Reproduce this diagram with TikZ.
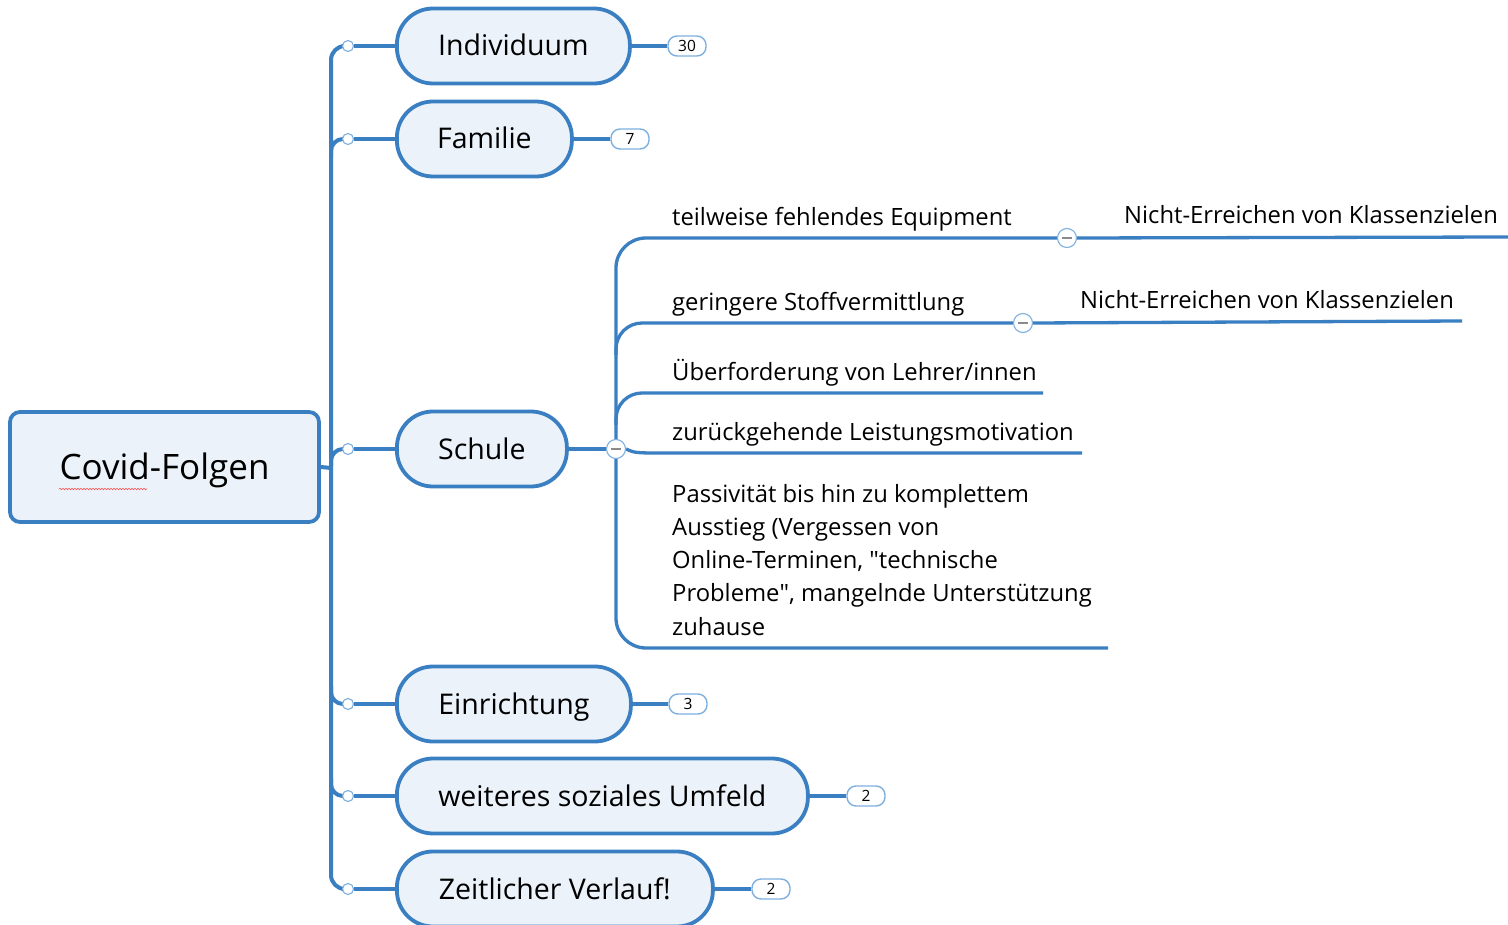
\documentclass[tikz,border=0pt]{standalone}
\usepackage{fontspec}
\setmainfont{Open Sans}
\usetikzlibrary{decorations.pathmorphing,backgrounds}
\definecolor{lineblue}{HTML}{3A7FC1}
\definecolor{fillblue}{HTML}{EBF2FA}
\definecolor{ringblue}{HTML}{7DB0DE}
\definecolor{minusgray}{HTML}{8A8A8A}
\begin{document}
\begin{tikzpicture}[x=1pt,y=-1pt,
  topic/.style={draw=lineblue, line width=3.8pt, fill=fillblue, rounded corners=36pt,
    minimum height=75pt, inner sep=0pt, font=\fontsize{28.5}{32}\selectfont,
    text height=27.5pt, text depth=7.5pt, anchor=west},
  rootbox/.style={draw=lineblue, line width=3.8pt, fill=fillblue, rounded corners=10pt,
    minimum width=309pt, minimum height=110pt, inner sep=0pt, font=\fontsize{35}{40}\selectfont,
    text height=34pt, text depth=9pt},
  branch/.style={draw=lineblue, line width=4pt},
  sub/.style={draw=lineblue, line width=3.3pt},
  dot/.style={circle, draw=ringblue, fill=white, line width=1.1pt, minimum size=11pt, inner sep=0pt},
  minus/.style={circle, draw=ringblue, fill=white, line width=1.1pt, minimum size=19pt, inner sep=0pt,
    path picture={\draw[minusgray,line width=1.2pt] ([xshift=-5pt]path picture bounding box.center) -- ([xshift=5pt]path picture bounding box.center);}},
  badge/.style={draw=ringblue, fill=white, line width=1.4pt, rounded corners=9pt,
    minimum width=38pt, minimum height=20pt, inner sep=0pt, font=\fontsize{15.5}{17}\selectfont},
  subtext/.style={anchor=base west, inner sep=0pt, font=\fontsize{23.8}{28}\selectfont},
]
\useasboundingbox (0,0) rectangle (1508,925);

% root
\node[rootbox] (root) at (164.5,467) {Covid-Folgen};
\draw[red!70, line width=0.6pt, decorate, decoration={snake, amplitude=0.7pt, segment length=3pt}] (59,489) -- (147,489);

% main topics
\node[topic, minimum width=233pt] (ind) at (395,46) {Individuum};
\node[topic, minimum width=175pt] (fam) at (395,139) {Familie};
\node[topic, minimum width=170pt] (sch) at (395,449) {Schule};
\node[topic, minimum width=234pt] (ein) at (395,704) {Einrichtung};
\node[topic, minimum width=411pt] (wei) at (395,796) {weiteres soziales Umfeld};
\node[topic, minimum width=316pt] (zei) at (395,889) {Zeitlicher Verlauf!};

% small dots
\node[dot] (d1) at (348,46) {};
\node[dot] (d2) at (348,139) {};
\node[dot] (d3) at (348,449) {};
\node[dot] (d4) at (348,704) {};
\node[dot] (d5) at (348,796) {};
\node[dot] (d6) at (348,889) {};

% badges
\node[badge] (b1) at (687,46) {30};
\node[badge] (b2) at (630,139) {7};
\node[badge] (b4) at (688,704) {3};
\node[badge] (b5) at (866,796) {2};
\node[badge] (b6) at (771,889) {2};

% schule subtree
\node[minus] (m0) at (616,449) {};
\node[minus] (mA) at (1067,238) {};
\node[minus] (mB) at (1023,323) {};

\node[subtext] (t1) at (672,226) {teilweise fehlendes Equipment};
\node[subtext] (t2) at (672,311) {geringere Stoffvermittlung};
\node[subtext] (t3) at (672,381) {Überforderung von Lehrer/innen};
\node[subtext] (t4) at (672,440) {zurückgehende Leistungsmotivation};
\node[subtext] (p1) at (672,502) {Passivität bis hin zu komplettem};
\node[subtext] (p2) at (672,535.3) {Ausstieg (Vergessen von};
\node[subtext] (p3) at (672,568.6) {Online-Terminen, \textquotedbl technische};
\node[subtext] (p4) at (672,601.9) {Probleme\textquotedbl, mangelnde Unterstützung};
\node[subtext] (p5) at (672,635.2) {zuhause};
\node[subtext] (n1) at (1124,224) {Nicht-Erreichen von Klassenzielen};
\node[subtext] (n2) at (1080,309) {Nicht-Erreichen von Klassenzielen};

% coordinates
\coordinate (tj) at (331,468);
\coordinate (t2c) at (331,157);
\coordinate (t3c) at (331,466);
\coordinate (t4c) at (331,686);
\coordinate (t5c) at (331,778);
\coordinate (s2) at (616,355);
\coordinate (s3) at (616,425);
\coordinate (u3) at (1043,393);
\coordinate (u4a) at (665,453);
\coordinate (u4) at (1082,453);
\coordinate (u5) at (1108,648);
\coordinate (nA) at (1508,237);
\coordinate (nB) at (1462,321);

\begin{scope}[on background layer]
\fill[white] (0,0) rectangle (1508,925);
\draw[branch] (root.east) -- (tj);
\draw[branch, rounded corners=14pt] (d1.west) -| (tj) |- (d6.west);
\draw[branch, rounded corners=12pt] (t2c) |- (d2.west);
\draw[branch, rounded corners=12pt] (t3c) |- (d3.west);
\draw[branch, rounded corners=12pt] (t4c) |- (d4.west);
\draw[branch, rounded corners=12pt] (t5c) |- (d5.west);
\draw[branch] (d1) -- (ind);
\draw[branch] (d2) -- (fam);
\draw[branch] (d3) -- (sch);
\draw[branch] (d4) -- (ein);
\draw[branch] (d5) -- (wei);
\draw[branch] (d6) -- (zei);
\draw[branch] (ind) -- (b1);
\draw[branch] (fam) -- (b2);
\draw[branch] (ein) -- (b4);
\draw[branch] (wei) -- (b5);
\draw[branch] (zei) -- (b6);
\draw[branch] (sch) -- (m0);
\draw[sub, rounded corners=30pt] (mA.west) -| (m0.north);
\draw[sub, rounded corners=30pt] (m0.south) |- (u5);
\draw[sub, rounded corners=26pt] (s2) |- (mB.west);
\draw[sub, rounded corners=26pt] (s3) |- (u3);
\draw[sub] (m0.east) .. controls (635,453) .. (u4a) -- (u4);
\draw[sub] (mA.east) -- (nA);
\draw[sub] (mB.east) -- (nB);
\end{scope}
\end{tikzpicture}
\end{document}
